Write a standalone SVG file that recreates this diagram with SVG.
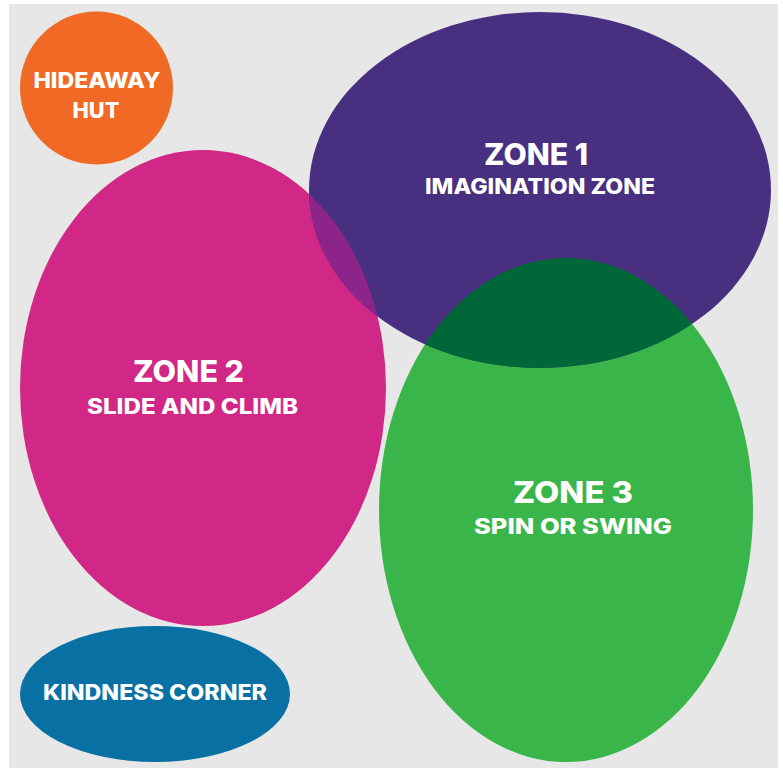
<svg xmlns="http://www.w3.org/2000/svg" width="783" height="771" viewBox="0 0 783 771">
<style>
text{font-family:"Inter","Lato","Liberation Sans",sans-serif;font-weight:800;fill:#ffffff;text-anchor:middle}
.t{font-size:30px}
.s{font-size:21px}
.n{font-size:22px}
</style>
<defs>
<clipPath id="clipZ1"><ellipse cx="540" cy="190" rx="231" ry="178"/></clipPath>
</defs>
<rect x="0" y="0" width="783" height="771" fill="#ffffff"/>
<rect x="9" y="4" width="769" height="764" fill="#E6E7E6"/>
<g id="zone2">
<ellipse cx="203" cy="388" rx="183" ry="238" fill="#D12786"/>
</g>
<g id="zone3">
<ellipse cx="566" cy="510" rx="187" ry="252" fill="#39B54A"/>
</g>
<g id="zone1">
<ellipse cx="540" cy="190" rx="231" ry="178" fill="#482F80"/>
</g>
<g id="overlaps" clip-path="url(#clipZ1)">
<ellipse cx="203" cy="388" rx="183" ry="238" fill="#8D2489"/>
<ellipse cx="566" cy="510" rx="187" ry="252" fill="#006838"/>
</g>
<g id="hideaway">
<circle cx="96.5" cy="88" r="76.5" fill="#F06A25"/>
<text class="n" x="97" y="88" textLength="127" lengthAdjust="spacingAndGlyphs">HIDEAWAY</text>
<text class="n" x="96" y="118" textLength="47" lengthAdjust="spacingAndGlyphs">HUT</text>
</g>
<g id="kindness">
<ellipse cx="155" cy="694" rx="135" ry="68" fill="#0870A3"/>
<text class="n" x="155" y="700" textLength="224" lengthAdjust="spacingAndGlyphs">KINDNESS CORNER</text>
</g>
<g id="labels">
<text class="t" x="536" y="165" textLength="104" lengthAdjust="spacingAndGlyphs">ZONE 1</text>
<text class="s" x="540" y="194" textLength="230" lengthAdjust="spacingAndGlyphs">IMAGINATION ZONE</text>
<text class="t" x="188.5" y="382" textLength="111" lengthAdjust="spacingAndGlyphs">ZONE 2</text>
<text class="s" x="192.5" y="414" textLength="211" lengthAdjust="spacingAndGlyphs">SLIDE AND CLIMB</text>
<text class="t" x="573" y="503" textLength="120" lengthAdjust="spacingAndGlyphs">ZONE 3</text>
<text class="s" x="573" y="534" textLength="198" lengthAdjust="spacingAndGlyphs">SPIN OR SWING</text>
</g>
<g id="connectors"></g>
</svg>
